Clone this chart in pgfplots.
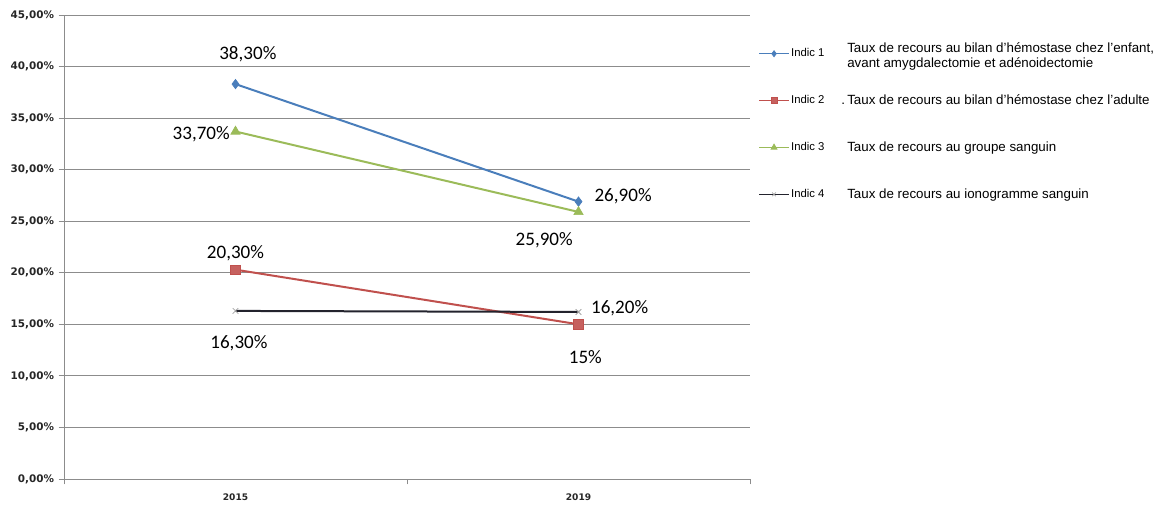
\documentclass[border=0pt]{standalone}
\usepackage{pgfplots}
\pgfplotsset{compat=1.18}
\usepackage{fontspec}
\setmainfont{Liberation Sans}
\newfontfamily\calibri{Carlito}
\newfontfamily\tickfont{DejaVu Sans}
\definecolor{c1}{RGB}{74,126,187}
\definecolor{c2}{RGB}{192,80,77}
\definecolor{c3}{RGB}{155,187,89}
\definecolor{c4}{RGB}{35,35,45}
\definecolor{gridc}{RGB}{140,140,140}
\begin{document}
\begin{tikzpicture}
\useasboundingbox (-48pt,-20.25pt) rectangle (825pt,359.25pt);
\begin{axis}[
  at={(0pt,0pt)}, anchor=south west,
  scale only axis, width=514.5pt, height=348pt,
  xmin=-0.5, xmax=1.5, ymin=0, ymax=45,
  xtick={0,1}, xticklabels={2015,2019},
  major x tick style={draw=none},
  minor xtick={-0.5,0.5,1.5}, minor tick length=4pt,
  minor x tick style={gridc, line width=0.6pt},
  ytick={0,5,...,45},
  /pgf/number format/assume math mode=true,
  yticklabel={\pgfmathprintnumber[fixed,fixed zerofill,precision=2,use comma]{\tick}\%},
  ymajorgrids, grid style={gridc, line width=0.7pt},
  axis x line*=bottom, axis y line*=left,
  axis line style={gridc, line width=0.7pt},
  major y tick style={gridc, line width=0.6pt},
  tick align=outside, major tick length=4pt,
  yticklabel style={font=\tickfont\bfseries\fontsize{7.8}{9}\selectfont, text=black!85},
  xticklabel style={font=\tickfont\bfseries\fontsize{6.8}{9}\selectfont, text=black!85, yshift=-3.5pt},
  legend style={at={(1.0117,0.931)}, anchor=north west, draw=none, fill=none,
    font=\fontsize{8.5}{10}\selectfont, row sep=25.5pt, inner sep=0pt,
    nodes={inner sep=1pt}},
  legend cell align=left,
  legend image code/.code={\draw[mark repeat=2,mark phase=2,#1,line width=1.1pt,every mark/.append style={scale=0.65}] plot coordinates {(0pt,0pt) (11.25pt,0pt) (22.5pt,0pt)};},
]
\addplot[c1, line width=1.5pt, mark=diamond*, mark size=3.5pt, mark options={fill=c1, draw=c1, line width=0.5pt}] coordinates {(0,38.3) (1,26.9)};
\addlegendentry{Indic 1}
\addplot[c2, line width=1.5pt, mark=square*, mark size=3.6pt, mark options={fill=c2!90!white, draw=c2, line width=0.5pt}] coordinates {(0,20.3) (1,15)};
\addlegendentry{Indic 2}
\addplot[c3, line width=1.5pt, mark=triangle*, mark size=4pt, mark options={fill=c3, draw=c3, line width=0.5pt}] coordinates {(0,33.7) (1,25.9)};
\addlegendentry{Indic 3}
\addplot[c4, line width=1.5pt, mark=x, mark size=3pt, mark options={draw=gray!70, line width=0.6pt}] coordinates {(0,16.3) (1,16.2)};
\addlegendentry{Indic 4}
\begin{scope}[every node/.style={font=\calibri\fontsize{14.3}{16}\selectfont, inner sep=0pt}]
\node at (axis cs:0.036,41.2) {38,30\%};
\node at (axis cs:1.13,27.4) {26,90\%};
\node at (axis cs:0.0,21.9) {20,30\%};
\node at (axis cs:1.02,11.8) {15\%};
\node at (axis cs:-0.10,33.4) {33,70\%};
\node at (axis cs:0.90,23.2) {25,90\%};
\node at (axis cs:0.01,13.2) {16,30\%};
\node at (axis cs:1.12,16.6) {16,20\%};
\end{scope}
\end{axis}
\begin{scope}[every node/.style={anchor=base west, inner sep=0pt, font=\fontsize{10}{12}\selectfont}]
\node at (587.25pt,319.5pt) {Taux de recours au bilan d'hémostase chez l'enfant,};
\node at (587.25pt,308.25pt) {avant amygdalectomie et adénoidectomie};
\node at (587.25pt,280.5pt) {\llap{.\,}Taux de recours au bilan d'hémostase chez l'adulte};
\node at (587.25pt,245.25pt) {Taux de recours au groupe sanguin};
\node at (587.25pt,210pt) {Taux de recours au ionogramme sanguin};
\end{scope}
\end{tikzpicture}
\end{document}
